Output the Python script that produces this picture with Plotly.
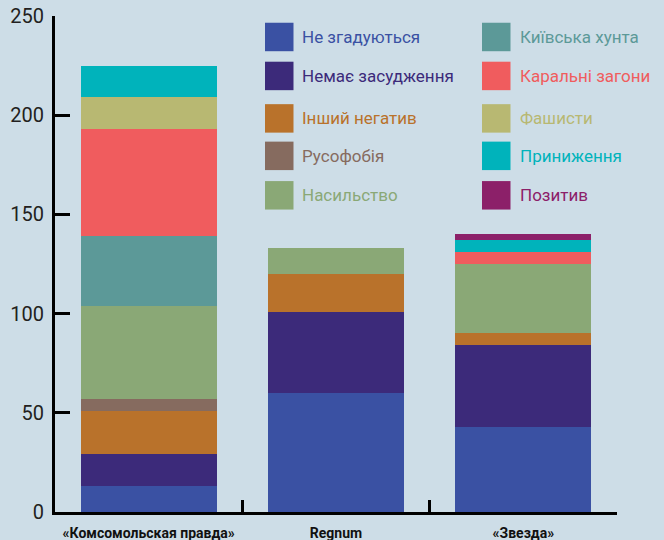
import plotly.graph_objects as go

# ---- data ----
categories = ["«Комсомольская правда»", "Regnum", "«Звезда»"]
series_names = [
    "Не згадуються", "Немає засудження", "Інший негатив", "Русофобія", "Насильство",
    "Київська хунта", "Каральні загони", "Фашисти", "Приниження", "Позитив",
]
ne_zgaduyutsya = [13, 60, 43]
nemaye_zasudzhennya = [16, 41, 41]
inshyi_negatyv = [22, 19, 6]
rusofobiya = [6, 0, 0]
nasylstvo = [47, 13, 35]
kyivska_khunta = [35, 0, 0]
karalni_zagony = [54, 0, 6]
fashysty = [16, 0, 0]
pryynyzhennya = [16, 0, 6]
pozytyv = [0, 0, 3]
series_values = [ne_zgaduyutsya, nemaye_zasudzhennya, inshyi_negatyv, rusofobiya, nasylstvo,
                 kyivska_khunta, karalni_zagony, fashysty, pryynyzhennya, pozytyv]
y_tick_values = [0, 50, 100, 150, 200, 250]

# ---- styles ----
colors = ["#3A51A3", "#3C2A7A", "#B9722B", "#866B5F", "#8AA876",
          "#5C9998", "#F05C5E", "#B8B872", "#00B3BB", "#8C2069"]
BG = "#CDDDE7"
W, H = 664, 540
ML, MR, MT, MB = 55, 47, 15.5, 28
PW, PH = W - ML - MR, H - MT - MB

fig = go.Figure()
for name, vals, col in zip(series_names, series_values, colors):
    fig.add_trace(go.Bar(x=categories, y=vals, name=name, marker=dict(color=col, line=dict(width=0)),
                         showlegend=False))

# manual legend (two columns of five)
col_sq_x = [265, 482]
col_txt_x = [300, 518]
row_y = [36.5, 75.5, 118, 155.5, 195]
SQ = 28.5
def px_x(x):
    return (x - ML) / PW
def px_y(y):
    return 1 - (y - MT) / PH
for i, (name, col) in enumerate(zip(series_names, colors)):
    c, r = divmod(i, 5)
    yc = row_y[r]
    fig.add_shape(type="rect", xref="paper", yref="paper",
                  x0=px_x(col_sq_x[c]), x1=px_x(col_sq_x[c] + SQ),
                  y0=px_y(yc - SQ / 2), y1=px_y(yc + SQ / 2),
                  fillcolor=col, line=dict(width=0))
    fig.add_annotation(xref="paper", yref="paper", x=px_x(col_txt_x[c]), y=px_y(yc),
                       text=name, showarrow=False, xanchor="left", yanchor="middle",
                       font=dict(family="Roboto", size=17, color=col))

fig.update_layout(
    width=W, height=H, barmode="stack", bargap=0.275,
    paper_bgcolor=BG, plot_bgcolor=BG,
    margin=dict(l=ML, r=MR, t=MT, b=MB, pad=0, autoexpand=False),
    font=dict(family="Roboto", color="#231F20"),
)
fig.update_yaxes(range=[0, 250], tickvals=y_tick_values, showgrid=False, zeroline=False,
                 automargin=False,
                 showline=True, linecolor="black", linewidth=3,
                 ticks="inside", ticklen=15, tickwidth=3, tickcolor="black",
                 tickfont=dict(size=20, color="#231F20"), ticklabelstandoff=4)
fig.update_xaxes(showgrid=False, zeroline=False, showline=True, linecolor="black", linewidth=3,
                 automargin=False,
                 ticks="inside", ticklen=12, tickwidth=3, tickcolor="black", tickson="boundaries",
                 tickfont=dict(size=14, color="#111111", family="Roboto", weight="bold"),
                 ticklabelstandoff=6, range=[-0.5, 2.5])

fig.write_html("out.html", config={"displayModeBar": False},
               post_script="document.body.style.margin='0';document.body.style.overflow='hidden';")
